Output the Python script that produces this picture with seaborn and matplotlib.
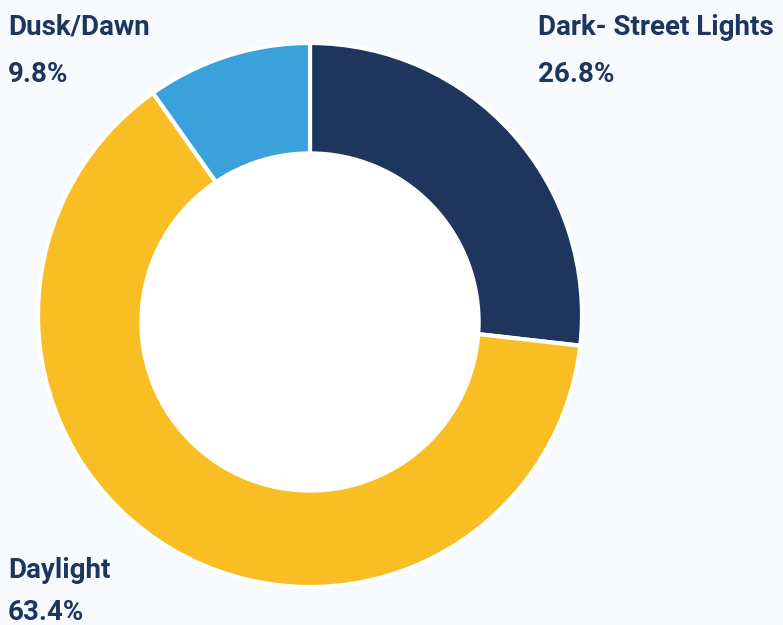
import matplotlib
matplotlib.use('Agg')
import matplotlib.pyplot as plt
import seaborn as sns

# dados do gráfico
categorias = ['Dark- Street Lights', 'Daylight', 'Dusk/Dawn']
percentuais = [26.8, 63.4, 9.8]
cores = ['#1e365e', '#fabe25', '#3ba1db']

fundo = '#f7fbff'
cor_texto = '#1e365e'

sns.set_theme(style='white')
plt.rcParams['font.family'] = ['Roboto', 'DejaVu Sans']

fig = plt.figure(figsize=(7.83, 6.25), dpi=100, facecolor=fundo)
W, H = 783, 625
cx, cy, r = 310, 315, 272
ax = fig.add_axes([(cx - r) / W, (H - cy - r) / H, 2 * r / W, 2 * r / H])
ax.set_facecolor(fundo)

wedges, _ = ax.pie(percentuais, colors=cores, startangle=90, counterclock=False,
                   radius=1, wedgeprops=dict(edgecolor='white', linewidth=3))
for w in wedges:
    w.set_clip_on(False)

# furo central branco (levemente deslocado para baixo, como no original)
furo = plt.Circle((0, -7 / r), 170 / r, color='white', zorder=5)
ax.add_patch(furo)

ax.set_xlim(-1, 1)
ax.set_ylim(-1, 1)
ax.axis('off')

# rótulos (posição em pixels da figura)
posicoes = {'Dark- Street Lights': (538, 35, 82),
            'Daylight': (8, 578, 620),
            'Dusk/Dawn': (8, 35, 82)}
for cat, pct in zip(categorias, percentuais):
    x, y1, y2 = posicoes[cat]
    fig.text(x / W, 1 - y1 / H, cat, fontsize=20, fontweight='bold',
             color=cor_texto, ha='left', va='baseline')
    fig.text(x / W, 1 - y2 / H, f'{pct}%', fontsize=20, fontweight='bold',
             color=cor_texto, ha='left', va='baseline')

fig.savefig('out.png', dpi=100, facecolor=fundo)
